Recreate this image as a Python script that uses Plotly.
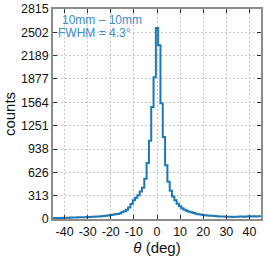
import plotly.graph_objects as go

theta = list(range(-45, 46))
counts = [12, 14, 11, 15, 13, 16, 18, 17, 20, 21, 20, 22, 23, 24, 25, 26,
          28, 29, 31, 33, 35, 37, 40, 42, 46, 52, 57, 62, 68, 75, 90, 105,
          125, 155, 200, 250, 285, 320, 370, 420, 540, 750, 1050, 1500, 1900,
          2560,
          2330, 1550, 1100, 720, 500, 380, 300, 250, 205, 170, 145, 125, 110,
          98, 90, 80, 72, 65, 60, 55, 50, 47, 44, 42, 40, 38, 35, 33, 32, 30,
          29, 30, 28, 31, 29, 32, 33, 31, 34, 36, 33, 37, 35, 38, 37]
yticks = [0, 313, 626, 938, 1251, 1564, 1877, 2189, 2502, 2815]
xticks = [-40, -30, -20, -10, 0, 10, 20, 30, 40]

fig = go.Figure()
fig.add_trace(go.Scatter(x=theta, y=counts, mode="lines", line_shape="hvh",
                         line=dict(color="#1f77b4", width=2)))

font = "Liberation Sans, Arial, sans-serif"
axis_common = dict(showgrid=True, gridcolor="#c8c8c8", griddash="2px,2px", gridwidth=1,
                   ticks="inside", ticklen=4, tickwidth=1, tickcolor="#333",
                   mirror="ticks", showline=True, linecolor="#8c8c8c", linewidth=1.5,
                   zeroline=False, automargin=False,
                   tickfont=dict(size=12.5, color="#111", family=font))
fig.update_xaxes(range=[-45, 45], tickvals=xticks, ticktext=[str(v) for v in xticks],
                 title=dict(text="<i>θ</i> (deg)", font=dict(size=15, color="#111", family=font),
                            standoff=3), **axis_common)
fig.update_yaxes(range=[0, 2815], tickvals=yticks, ticktext=[str(v) for v in yticks],
                 title=dict(text="counts", font=dict(size=15, color="#111", family=font),
                            standoff=2), **axis_common)
fig.add_annotation(x=0.034, y=0.948, xref="paper", yref="paper", xanchor="left", yanchor="middle",
                   text="10mm – 10mm", showarrow=False,
                   font=dict(size=12, color="#3a8dd0", family=font))
fig.add_annotation(x=0.014, y=0.888, xref="paper", yref="paper", xanchor="left", yanchor="middle",
                   text="FWHM = 4.3°", showarrow=False,
                   font=dict(size=12, color="#3a8dd0", family=font))
fig.update_layout(width=266, height=258, margin=dict(l=53, r=5, t=9, b=39),
                  plot_bgcolor="white", paper_bgcolor="white", showlegend=False)
fig.write_html("out.html", config={"displayModeBar": False},
               post_script="document.body.style.margin='0';document.body.style.overflow='hidden';")
